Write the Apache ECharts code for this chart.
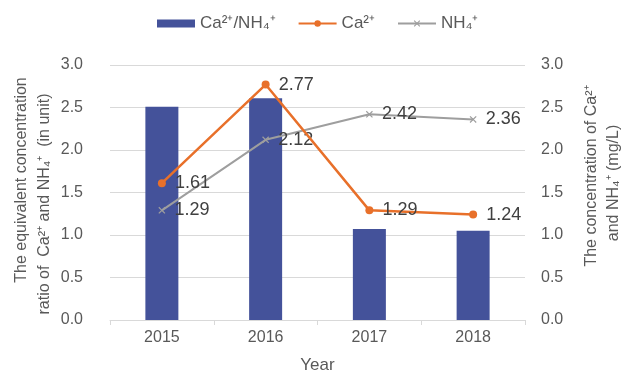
<!DOCTYPE html>
<html>
<head>
<meta charset="utf-8">
<script src="https://cdn.jsdelivr.net/npm/echarts@6/dist/echarts.min.js"></script>
<style>html,body{margin:0;padding:0;background:#fff}#c{width:630px;height:374px}</style>
</head>
<body>
<div id="c"></div>
<script>
var categories = ['2015', '2016', '2017', '2018'];
var ratioValues = [2.51, 2.61, 1.07, 1.05];
var caValues = [1.61, 2.77, 1.29, 1.24];
var nh4Values = [1.29, 2.12, 2.42, 2.36];
var leftTicks = [0, 0.5, 1, 1.5, 2, 2.5, 3];
var rightTicks = [0, 0.5, 1, 1.5, 2, 2.5, 3];

var FONT = '"Liberation Sans", Arial, sans-serif';
var chart = echarts.init(document.getElementById('c'));
var xMark = 'path://M0,1.2L1.2,0L5,3.8L8.8,0L10,1.2L6.2,5L10,8.8L8.8,10L5,6.2L1.2,10L0,8.8L3.8,5Z';
chart.setOption({
  animation: false,
  textStyle: { fontFamily: FONT },
  legend: {
    left: 152, top: 10,
    itemWidth: 38, itemHeight: 8, itemGap: 22,
    textStyle: { fontSize: 17, color: '#595959', fontFamily: FONT },
    data: [
      { name: 'Ca²⁺/NH₄⁺', icon: 'rect' },
      { name: 'Ca²⁺' },
      { name: 'NH₄⁺' }
    ]
  },
  grid: { left: 110, right: 105, top: 65, bottom: 54, outerBoundsMode: 'none', containLabel: false },
  xAxis: {
    type: 'category', data: categories,
    name: 'Year', nameLocation: 'middle', nameGap: 37,
    nameTextStyle: { fontSize: 17, color: '#595959' },
    axisLine: { lineStyle: { color: '#d9d9d9', width: 1 } },
    axisTick: { show: true, alignWithLabel: false, length: 5, lineStyle: { color: '#d9d9d9' } },
    axisLabel: { fontSize: 16, color: '#595959', margin: 10 }
  },
  yAxis: [
    {
      type: 'value', min: 0, max: 3, interval: 0.5,
      axisLabel: { fontSize: 16, color: '#595959', margin: 27, formatter: function (v) { return v.toFixed(1); } },
      splitLine: { lineStyle: { color: '#d9d9d9' } },
      axisLine: { show: false }, axisTick: { show: false }
    },
    {
      type: 'value', min: 0, max: 3, interval: 0.5, position: 'right',
      axisLabel: { fontSize: 16, color: '#595959', margin: 16, formatter: function (v) { return v.toFixed(1); } },
      splitLine: { show: false },
      axisLine: { show: false }, axisTick: { show: false }
    }
  ],
  series: [
    {
      name: 'Ca²⁺/NH₄⁺', type: 'bar', data: ratioValues, yAxisIndex: 0,
      barWidth: 33, itemStyle: { color: '#44529A' }
    },
    {
      name: 'Ca²⁺', type: 'line', data: caValues, yAxisIndex: 1,
      symbol: 'circle', symbolSize: 8,
      lineStyle: { color: '#E8702A', width: 2.5 },
      itemStyle: { color: '#E8702A' },
      label: { show: true, position: 'right', distance: 9, fontSize: 18, color: '#404040', formatter: function (p) { return p.value.toFixed(2); } },
      z: 3
    },
    {
      name: 'NH₄⁺', type: 'line', data: nh4Values, yAxisIndex: 1,
      symbol: xMark, symbolSize: 7,
      lineStyle: { color: '#9E9E9E', width: 2 },
      itemStyle: { color: '#9E9E9E' },
      label: { show: true, position: 'right', distance: 9, fontSize: 18, color: '#404040', formatter: function (p) { return p.value.toFixed(2); } },
      z: 2
    }
  ],
  graphic: [
    { type: 'text', x: 22, y: 180, rotation: Math.PI / 2, style: { text: 'The equivalent concentration', fill: '#595959', font: '16px ' + FONT, textAlign: 'center', textVerticalAlign: 'middle' } },
    { type: 'text', x: 45, y: 204, rotation: Math.PI / 2, style: { text: 'ratio of  Ca²⁺ and NH₄⁺  (in unit)', fill: '#595959', font: '16px ' + FONT, textAlign: 'center', textVerticalAlign: 'middle' } },
    { type: 'text', x: 592, y: 176, rotation: Math.PI / 2, style: { text: 'The concentration of Ca²⁺', fill: '#595959', font: '16px ' + FONT, textAlign: 'center', textVerticalAlign: 'middle' } },
    { type: 'text', x: 614, y: 183, rotation: Math.PI / 2, style: { text: 'and NH₄⁺ (mg/L)', fill: '#595959', font: '16px ' + FONT, textAlign: 'center', textVerticalAlign: 'middle' } }
  ]
});
</script>
</body>
</html>
